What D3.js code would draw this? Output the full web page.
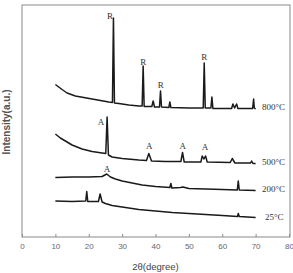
<!DOCTYPE html>
<html>
<head>
<meta charset="utf-8">
<script src="https://cdn.jsdelivr.net/npm/d3@7"></script>
<style>
  html, body { margin: 0; padding: 0; background: #fff; }
  svg { display: block; }
  .tick text { font-family: "Liberation Sans", Arial, sans-serif; font-size: 8px; fill: #666; }
</style>
</head>
<body>
<div id="chart"></div>
<script>
// XRD patterns of the sample after heat treatment; traces stacked with an offset.
// Values are [2theta, intensity (a.u., offset included)].

const xTicks = [0, 10, 20, 30, 40, 50, 60, 70, 80];

const s800 = [
  [10, 152.5], [12, 147.5], [13.5, 144], [16, 141], [18.5, 139.5], [21, 138], [23.5, 136.5],
  [26, 135], [27.1, 134.5], [27.4, 219], [27.7, 134], [29, 133.5], [32, 132], [35, 131],
  [36.0, 131], [36.3, 171], [36.6, 130.5], [38.9, 130.5], [39.3, 136], [39.7, 130],
  [41.2, 130], [41.5, 146], [41.8, 130], [44.0, 129.5], [44.3, 135], [44.6, 129.5],
  [50, 129], [54.3, 129], [54.6, 174], [54.9, 129], [56.6, 129], [56.9, 140], [57.2, 128.5],
  [62.8, 128.5], [63.2, 133], [63.7, 129], [64.3, 133], [64.7, 128.5], [69.1, 128.5],
  [69.4, 138], [69.6, 129], [70, 128]
];

const s500 = [
  [10, 103], [11.5, 99], [13, 96], [15, 92], [18, 88], [21, 85.5], [24, 84], [25.1, 83.5],
  [25.5, 120], [25.9, 82], [27, 80], [30, 78.5], [35, 77], [37.3, 76.5], [38.0, 83.5],
  [38.8, 76], [43, 75.5], [47.6, 75.5], [48.1, 84.5], [48.6, 75], [53.6, 75], [54.0, 81],
  [54.5, 78], [55.0, 81], [55.5, 75], [62.4, 74.5], [63.0, 78.5], [63.8, 74], [68.5, 74],
  [68.8, 76], [69.2, 73.5], [70, 73.5]
];

const s200 = [
  [10, 59.5], [15, 60], [20, 60], [24, 60.5], [25.4, 63], [26.5, 60], [28, 58], [30, 56],
  [33, 54], [36, 52], [40, 50.5], [44.3, 49.5], [44.6, 53.5], [44.9, 49], [47.5, 49.5],
  [48.2, 50], [50, 48.5], [55, 48], [60, 47.5], [64.5, 47], [64.8, 56], [65.1, 47], [70, 46.5]
];

const s25 = [
  [10, 36], [15, 35.5], [19.1, 36], [19.4, 45.5], [19.7, 35.5], [22.9, 35.5], [23.4, 43],
  [24, 35], [25, 33.5], [27, 31.5], [30, 30], [35, 27.5], [40, 26], [45, 24.5], [50, 23.5],
  [55, 22.5], [60, 21.5], [64.6, 20.5], [64.8, 23.5], [65.1, 20.5], [70, 19.5]
];

const seriesList = [s800, s500, s200, s25];
const tempLabels = [
  { text: "800°C", x: 71.9, y: 129 },
  { text: "500°C", x: 71.9, y: 74.5 },
  { text: "200°C", x: 71.9, y: 47 },
  { text: "25°C", x: 72.8, y: 19 }
];
// phase marks: R = rutile, A = anatase
const peakLabels = [
  { text: "R", x: 26.4, y: 220.5 },
  { text: "R", x: 36.3, y: 174 },
  { text: "R", x: 41.6, y: 151.5 },
  { text: "R", x: 54.6, y: 179.5 },
  { text: "A", x: 23.7, y: 114.5 },
  { text: "A", x: 38.1, y: 90 },
  { text: "A", x: 48.2, y: 90 },
  { text: "A", x: 54.8, y: 89.5 },
  { text: "A", x: 25.5, y: 67 }
];

const width = 293, height = 273;
const m = { top: 5, right: 3, bottom: 36, left: 22 };
const iw = width - m.left - m.right;
const ih = height - m.top - m.bottom;

const svg = d3.select("#chart").append("svg")
  .attr("width", width).attr("height", height).attr("viewBox", `0 0 ${width} ${height}`);
const g = svg.append("g").attr("transform", `translate(${m.left},${m.top})`);

const x = d3.scaleLinear().domain([0, 80]).range([0, 267]);
const y = d3.scaleLinear().domain([0, 232]).range([ih, 0]);

g.append("rect").attr("x", 0).attr("y", 0).attr("width", iw).attr("height", ih)
  .attr("fill", "none").attr("stroke", "#8a8a8a").attr("stroke-width", 1);

const xAxis = g.append("g").attr("transform", `translate(0,${ih})`)
  .call(d3.axisBottom(x).tickValues(xTicks).tickSize(-3).tickPadding(6));
xAxis.select(".domain").remove();
xAxis.selectAll(".tick line").attr("stroke", "#8a8a8a");

const line = d3.line().x((d) => x(d[0])).y((d) => y(d[1]));
g.selectAll(".trace").data(seriesList).join("path")
  .attr("class", "trace")
  .attr("fill", "none").attr("stroke", "#1a1a1a").attr("stroke-width", 1.5)
  .attr("stroke-linejoin", "round")
  .attr("d", line);

g.selectAll(".temp").data(tempLabels).join("text")
  .attr("class", "temp")
  .attr("x", (d) => x(d.x)).attr("y", (d) => y(d.y))
  .attr("dominant-baseline", "middle")
  .attr("font-family", "'Liberation Serif', 'Times New Roman', serif")
  .attr("font-size", 9).attr("fill", "#333")
  .text((d) => d.text);

g.selectAll(".peak").data(peakLabels).join("text")
  .attr("class", "peak")
  .attr("x", (d) => x(d.x)).attr("y", (d) => y(d.y))
  .attr("text-anchor", "middle").attr("dominant-baseline", "middle")
  .attr("font-family", "'Liberation Serif', 'Times New Roman', serif")
  .attr("font-size", 9).attr("fill", "#333")
  .text((d) => d.text);

svg.append("text")
  .attr("x", m.left + x(40)).attr("y", 267)
  .attr("text-anchor", "middle").attr("dominant-baseline", "middle")
  .attr("font-family", "'Liberation Sans', Arial, sans-serif")
  .attr("font-size", 9.5).attr("fill", "#444")
  .text("2θ(degree)");

svg.append("text")
  .attr("transform", "translate(7,122) rotate(-90)")
  .attr("text-anchor", "middle").attr("dominant-baseline", "middle")
  .attr("font-family", "'Liberation Sans', Arial, sans-serif")
  .attr("font-size", 10).attr("font-weight", "bold").attr("fill", "#555")
  .text("Intensity(a.u.)");
</script>
</body>
</html>
